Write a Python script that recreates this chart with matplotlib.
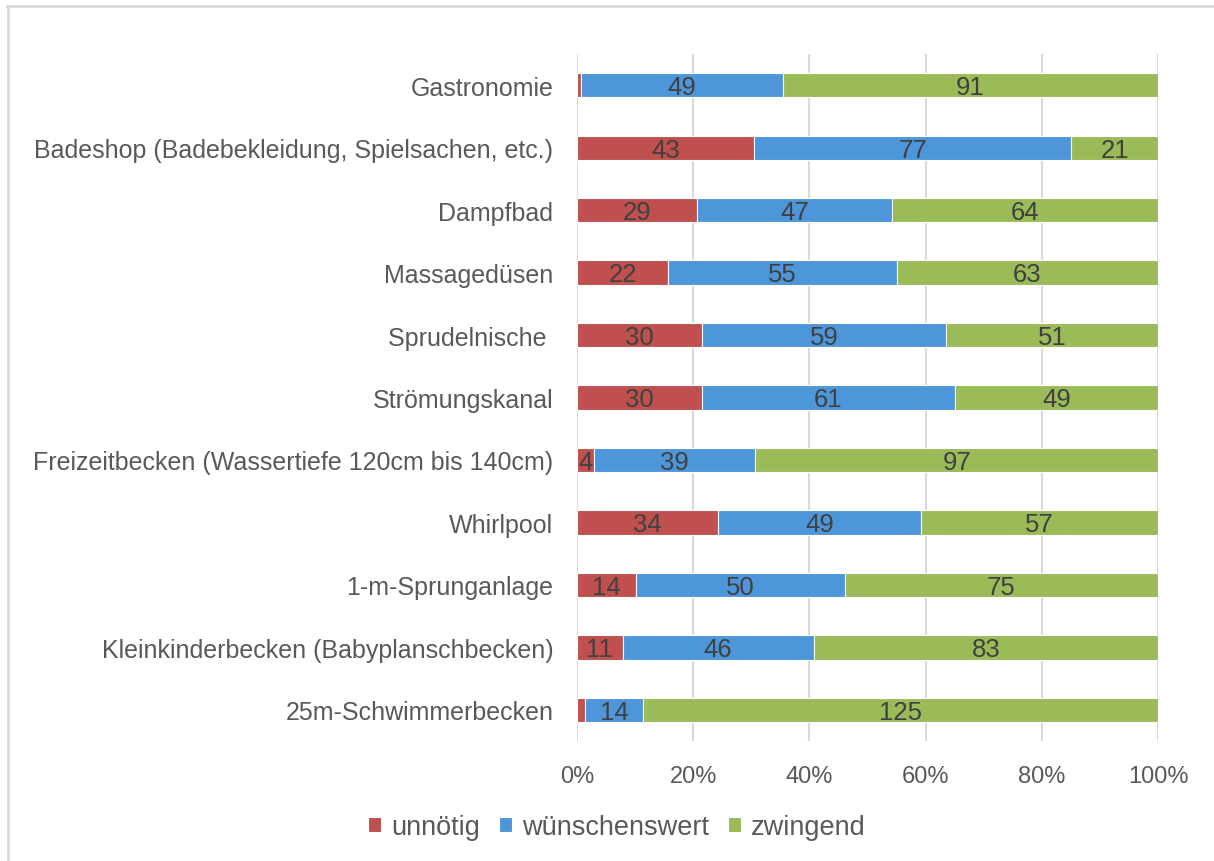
import matplotlib.pyplot as plt
from matplotlib.lines import Line2D
import numpy as np

plt.rcParams["font.family"] = ["Liberation Sans", "DejaVu Sans"]

categories = [
    "Gastronomie",
    "Badeshop (Badebekleidung, Spielsachen, etc.)",
    "Dampfbad",
    "Massagedüsen",
    "Sprudelnische ",
    "Strömungskanal",
    "Freizeitbecken (Wassertiefe 120cm bis 140cm)",
    "Whirlpool",
    "1-m-Sprunganlage",
    "Kleinkinderbecken (Babyplanschbecken)",
    "25m-Schwimmerbecken",
]
unnoetig = [1, 43, 29, 22, 30, 30, 4, 34, 14, 11, 2]
wuenschenswert = [49, 77, 47, 55, 59, 61, 39, 49, 50, 46, 14]
zwingend = [91, 21, 64, 63, 51, 49, 97, 57, 75, 83, 125]
series_names = ["unnötig", "wünschenswert", "zwingend"]
colors = ["#C0504D", "#4E96DA", "#9BBB59"]

text_col = "#595959"
label_col = "#404040"

fig = plt.figure(figsize=(12.14, 8.62), dpi=100)
ax = fig.add_axes([0.4753, 0.1392, 0.4786, 0.797])

data = np.array([unnoetig, wuenschenswert, zwingend], dtype=float)
totals = data.sum(axis=0)
pct = data / totals * 100
y = np.arange(len(categories))

left = np.zeros(len(categories))
for i, name in enumerate(series_names):
    bars = ax.barh(y, pct[i], left=left, height=0.39, color=colors[i],
                   edgecolor="white", linewidth=0.8, label=name, zorder=3)
    for j, b in enumerate(bars):
        if data[i, j] >= 3:
            ax.text(left[j] + pct[i, j] / 2, y[j] + 0.03, f"{int(data[i, j])}",
                    ha="center", va="center", fontsize=18.5, color=label_col,
                    zorder=4)
    left += pct[i]

ax.set_ylim(len(categories) - 0.5, -0.5)
ax.set_xlim(0, 100)
ax.set_yticks(y)
ax.set_yticklabels(categories, fontsize=18, color=text_col)
ax.set_xticks(np.arange(0, 101, 20))
ax.set_xticklabels([f"{v}%" for v in range(0, 101, 20)], fontsize=17,
                   color=text_col)
ax.tick_params(axis="both", length=0)
ax.tick_params(axis="y", pad=17)
ax.tick_params(axis="x", pad=17)
ax.grid(axis="x", color="#D9D9D9", linewidth=1.5, zorder=0)
for s in ax.spines.values():
    s.set_visible(False)

ax.legend(loc="center", bbox_to_anchor=(0.508, 0.039), bbox_transform=fig.transFigure,
          ncol=3, frameon=False, fontsize=19.5, labelcolor=text_col,
          handlelength=0.5, handleheight=0.5, handletextpad=0.35, columnspacing=0.7)

# chart border (cropped: only top and left visible)
fig.add_artist(Line2D([7 / 1214, 1.0], [1 - 6.5 / 862] * 2, color="#D9D9D9",
                      linewidth=2, transform=fig.transFigure))
fig.add_artist(Line2D([7.5 / 1214] * 2, [0.0, 1 - 6.5 / 862], color="#D9D9D9",
                      linewidth=2, transform=fig.transFigure))

fig.savefig("out.png", dpi=100)
